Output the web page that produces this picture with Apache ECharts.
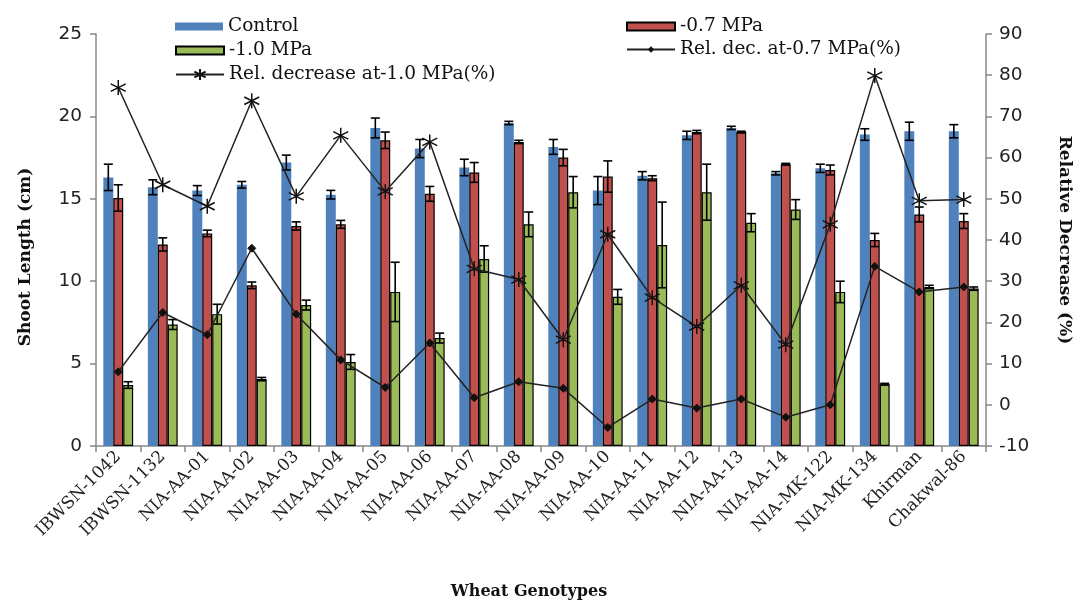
<!DOCTYPE html>
<html>
<head>
<meta charset="utf-8">
<script src="https://cdn.jsdelivr.net/npm/echarts@6/dist/echarts.min.js"></script>
<style>html,body{margin:0;padding:0;background:#fff}#c{width:1081px;height:605px}</style>
</head>
<body>
<div id="c"></div>
<script>
var categories = ['IBWSN-1042','IBWSN-1132','NIA-AA-01','NIA-AA-02','NIA-AA-03','NIA-AA-04','NIA-AA-05','NIA-AA-06','NIA-AA-07','NIA-AA-08','NIA-AA-09','NIA-AA-10','NIA-AA-11','NIA-AA-12','NIA-AA-13','NIA-AA-14','NIA-MK-122','NIA-MK-134','Khirman','Chakwal-86'];
var control = [16.3,15.7,15.5,15.85,17.2,15.25,19.3,18.05,16.9,19.6,18.15,15.5,16.4,18.85,19.3,16.55,16.85,18.9,19.1,19.1];
var controlErr = [0.8,0.45,0.3,0.2,0.45,0.26,0.6,0.55,0.5,0.1,0.45,0.85,0.25,0.25,0.1,0.1,0.25,0.35,0.55,0.4];
var mpa07 = [15.05,12.23,12.9,9.75,13.35,13.45,18.55,15.3,16.6,18.45,17.5,16.35,16.25,19.05,19.05,17.1,16.75,12.5,14.05,13.65];
var mpa07Err = [0.8,0.4,0.2,0.2,0.25,0.24,0.5,0.45,0.6,0.1,0.5,0.95,0.15,0.1,0.05,0.05,0.3,0.4,0.45,0.45];
var mpa10 = [3.7,7.37,8.0,4.06,8.55,5.1,9.35,6.55,11.35,13.45,15.4,9.05,12.2,15.4,13.55,14.35,9.35,3.75,9.65,9.55];
var mpa10Err = [0.2,0.3,0.6,0.1,0.3,0.45,1.8,0.3,0.8,0.75,0.95,0.45,2.6,1.7,0.55,0.6,0.65,0.05,0.1,0.1];
var relDec10 = [77,53.4,48.2,73.8,50.6,65.4,51.8,63.8,33.0,30.4,15.8,41.4,26.0,19.0,29.0,14.6,43.8,79.9,49.5,49.8];
var relDec07 = [8.0,22.4,17.0,38.0,22.0,10.9,4.2,15.0,1.7,5.6,4.0,-5.5,1.4,-0.8,1.4,-3.0,0.0,33.6,27.4,28.6];
var leftTicks = {min:0, max:25, interval:5};
var rightTicks = {min:-10, max:90, interval:10};

var GAP = 0.33;
function errData(vals, errs){ return vals.map(function(v,i){ return [i, v, errs[i]]; }); }
function errSeries(name, vals, errs, k){
  return {
    name: name + ' err', type: 'custom', yAxisIndex: 0, z: 5, silent: true,
    data: errData(vals, errs),
    renderItem: function(params, api){
      var idx = api.value(0), v = api.value(1), e = api.value(2);
      var band = api.size([1,0])[0];
      var bw = band*(1-GAP)/3;
      var c = api.coord([idx, v]);
      var x = c[0] + (k-1)*bw;
      var top = api.coord([idx, v+e])[1];
      var bot = api.coord([idx, v-e])[1];
      var cw = 4.5;
      var st = {stroke:'#000', lineWidth:1.6};
      return {type:'group', children:[
        {type:'line', shape:{x1:x,y1:top,x2:x,y2:bot}, style:st},
        {type:'line', shape:{x1:x-cw,y1:top,x2:x+cw,y2:top}, style:st},
        {type:'line', shape:{x1:x-cw,y1:bot,x2:x+cw,y2:bot}, style:st}
      ]};
    }
  };
}
var starPath = 'path://M0,-10 L0,10 M-8.66,-5 L8.66,5 M-8.66,5 L8.66,-5';
var serif = 'DejaVu Serif';
var sans = 'DejaVu Sans';
var legText = {fontFamily: serif, fontSize: 18.5, color:'#111'};

var chart = echarts.init(document.getElementById('c'), null, {renderer:'canvas'});
chart.setOption({
  animation: false,
  backgroundColor: '#fff',
  grid: {left: 96, right: 91, top: 34, height: 417, containLabel: false},
  legend: [
    {data:[{name:'Control', icon:'rect'}], left:170, top:12, itemWidth:48, itemHeight:8, itemGap:4, textStyle:legText},
    {data:[{name:'-1.0 MPa', icon:'rect'}], left:170, top:36, itemWidth:48, itemHeight:8, itemGap:4, textStyle:legText},
    {data:['Rel. decrease at-1.0 MPa(%)'], left:170, top:60, itemWidth:48, itemHeight:14, itemGap:4, textStyle:legText},
    {data:[{name:'-0.7 MPa', icon:'rect'}], left:621, top:12, itemWidth:48, itemHeight:8, itemGap:4, textStyle:legText},
    {data:['Rel. dec. at-0.7 MPa(%)'], left:621, top:35, itemWidth:48, itemHeight:8, itemGap:4, textStyle:legText}
  ],
  xAxis: {
    type: 'category', data: categories, boundaryGap: true,
    axisLine: {lineStyle:{color:'#888', width:1.5}},
    axisTick: {show:true, alignWithLabel:false, length:6, lineStyle:{color:'#888', width:1.5}},
    axisLabel: {rotate:45, interval:0, margin:8, fontFamily: serif, fontSize:17, color:'#222'},
    name: 'Wheat Genotypes', nameLocation:'middle', nameGap:138,
    nameTextStyle: {fontFamily: serif, fontWeight:'bold', fontSize:16, color:'#111', padding:[0,24,0,0]}
  },
  yAxis: [
    {type:'value', min:leftTicks.min, max:leftTicks.max, interval:leftTicks.interval, position:'left',
     splitLine:{show:false},
     axisLine:{show:true, lineStyle:{color:'#888', width:1.5}},
     axisTick:{show:true, length:6, lineStyle:{color:'#888', width:1.5}},
     axisLabel:{fontFamily:sans, fontSize:18.5, color:'#222', margin:14},
     name:'Shoot Length (cm)', nameLocation:'middle', nameRotate:90, nameGap:62,
     nameTextStyle:{fontFamily:serif, fontWeight:'bold', fontSize:17, color:'#111', padding:[0,0,0,-34]}},
    {type:'value', min:rightTicks.min, max:rightTicks.max, interval:rightTicks.interval, position:'right',
     splitLine:{show:false},
     axisLine:{show:true, lineStyle:{color:'#888', width:1.5}},
     axisTick:{show:true, length:6, lineStyle:{color:'#888', width:1.5}},
     axisLabel:{fontFamily:sans, fontSize:18.5, color:'#222', margin:13},
     name:'Relative Decrease (%)', nameLocation:'middle', nameRotate:-90, nameGap:70,
     nameTextStyle:{fontFamily:serif, fontWeight:'bold', fontSize:17, color:'#111'}}
  ],
  series: [
    {name:'Control', type:'bar', data:control, barGap:'0%', barCategoryGap:(GAP*100)+'%',
     itemStyle:{color:'#4F81BD'}},
    {name:'-0.7 MPa', type:'bar', data:mpa07,
     itemStyle:{color:'#C0504D', borderColor:'#000', borderWidth:1.2}},
    {name:'-1.0 MPa', type:'bar', data:mpa10,
     itemStyle:{color:'#9BBB59', borderColor:'#000', borderWidth:1.2}},
    errSeries('Control', control, controlErr, 0),
    errSeries('-0.7 MPa', mpa07, mpa07Err, 1),
    errSeries('-1.0 MPa', mpa10, mpa10Err, 2),
    {name:'Rel. dec. at-0.7 MPa(%)', type:'line', yAxisIndex:1, data:relDec07, z:10,
     symbol:'diamond', symbolSize:8, showAllSymbol:true,
     lineStyle:{color:'#222', width:1.5}, itemStyle:{color:'#111', borderColor:'#111'}},
    {name:'Rel. decrease at-1.0 MPa(%)', type:'line', yAxisIndex:1, data:relDec10, z:10,
     symbol:starPath, symbolSize:15, showAllSymbol:true,
     lineStyle:{color:'#222', width:1.5}, itemStyle:{color:'#111', borderColor:'#111', borderWidth:1.5}}
  ]
});
</script>
</body>
</html>
